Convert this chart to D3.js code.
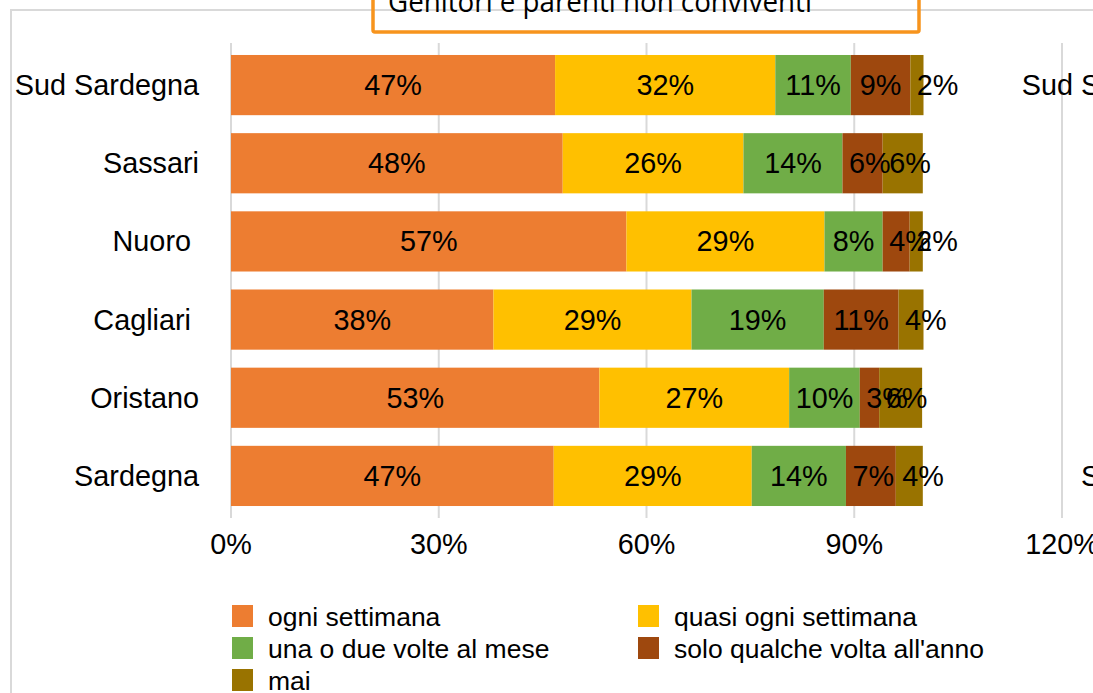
<!DOCTYPE html>
<html>
<head>
<meta charset="utf-8">
<script src="https://cdn.jsdelivr.net/npm/d3@7"></script>
<style>
  body { margin: 0; background: #fff; }
  svg { display: block; font-family: "Liberation Sans", Arial, Helvetica, sans-serif; }
  text { white-space: pre; }
</style>
</head>
<body>
<svg id="chart" width="1093" height="693"></svg>
<script>
// categories top to bottom (labels keep trailing spaces as in original)
var categories = ["Sud Sardegna", "Sassari", "Nuoro ", "Cagliari ", "Oristano", "Sardegna"];
var seriesNames = ["ogni settimana", "quasi ogni settimana", "una o due volte al mese", "solo qualche volta all'anno", "mai"];
var seriesColors = ["#ED7D31", "#FFC000", "#70AD47", "#9E480E", "#997300"];

// shares, one array per series, same order as categories
var ogniSettimana      = [0.468, 0.479, 0.571, 0.379, 0.532, 0.466];
var quasiOgni          = [0.318, 0.261, 0.286, 0.286, 0.274, 0.286];
var unaODue            = [0.109, 0.143, 0.084, 0.191, 0.102, 0.136];
var qualcheVoltaAnno   = [0.086, 0.058, 0.039, 0.108, 0.028, 0.072];
var mai                = [0.019, 0.058, 0.019, 0.036, 0.062, 0.039];

var xTicks = [0, 0.3, 0.6, 0.9, 1.2];
var title = "Genitori e parenti non conviventi";

var series = [ogniSettimana, quasiOgni, unaODue, qualcheVoltaAnno, mai];
var rows = categories.map(function (c, i) {
  var r = { cat: c };
  seriesNames.forEach(function (s, j) { r[s] = series[j][i]; });
  return r;
});

var svg = d3.select("#chart");

var x = d3.scaleLinear().domain([0, 1.2]).range([231, 1062]);
var y = d3.scaleBand().domain(categories).range([46, 515])
  .paddingInner(0.23).paddingOuter(0.115);
var color = d3.scaleOrdinal().domain(seriesNames).range(seriesColors);
var fmt = d3.format(".0%");

// outer chart border (extends past the right edge)
svg.append("rect")
  .attr("x", 11).attr("y", 10)
  .attr("width", 1200).attr("height", 720)
  .attr("fill", "none")
  .attr("stroke", "#d9d9d9")
  .attr("stroke-width", 2);

// title box, cut at top
svg.append("rect")
  .attr("x", 373).attr("y", -30)
  .attr("width", 546).attr("height", 62)
  .attr("rx", 2)
  .attr("fill", "none")
  .attr("stroke", "#F7941D")
  .attr("stroke-width", 3.5);

svg.append("text")
  .attr("x", 388).attr("y", 12)
  .attr("font-family", "'Liberation Sans Narrow', 'Open Sans', sans-serif")
  .attr("font-size", 30)
  .attr("textLength", 424)
  .attr("lengthAdjust", "spacingAndGlyphs")
  .attr("fill", "#000")
  .text(title);

// gridlines
svg.append("g")
  .selectAll("line")
  .data(xTicks)
  .enter().append("line")
  .attr("x1", function (d) { return x(d); })
  .attr("x2", function (d) { return x(d); })
  .attr("y1", 43).attr("y2", 518)
  .attr("stroke", "#d9d9d9")
  .attr("stroke-width", 2);

// x axis labels
svg.append("g")
  .selectAll("text")
  .data(xTicks)
  .enter().append("text")
  .attr("x", function (d) { return x(d); })
  .attr("y", 554)
  .attr("text-anchor", "middle")
  .attr("font-size", 28.8)
  .attr("fill", "#000")
  .text(function (d) { return fmt(d); });

// stacked bars
var stack = d3.stack().keys(seriesNames);
var layers = stack(rows);

var layer = svg.append("g")
  .selectAll("g")
  .data(layers)
  .enter().append("g")
  .attr("fill", function (d) { return color(d.key); });

layer.selectAll("rect")
  .data(function (d) { return d; })
  .enter().append("rect")
  .attr("x", function (d) { return x(d[0]); })
  .attr("width", function (d) { return x(d[1]) - x(d[0]); })
  .attr("y", function (d) { return y(d.data.cat); })
  .attr("height", y.bandwidth());

// data labels: centered, but never closer than 6.5px to the segment start
var labels = svg.append("g");
layers.forEach(function (l) {
  l.forEach(function (d) {
    var t = labels.append("text")
      .attr("y", y(d.data.cat) + y.bandwidth() / 2)
      .attr("dy", "0.35em")
      .attr("font-size", 28.8)
      .attr("fill", "#000")
      .text(fmt(d[1] - d[0]));
    var w = t.node().getComputedTextLength();
    var left = Math.max((x(d[0]) + x(d[1])) / 2 - w / 2, x(d[0]) + 6.5);
    t.attr("x", left);
  });
});

// category labels
svg.append("g")
  .selectAll("text")
  .data(categories)
  .enter().append("text")
  .attr("x", 199)
  .attr("y", function (d) { return y(d) + y.bandwidth() / 2; })
  .attr("dy", "0.35em")
  .attr("text-anchor", "end")
  .attr("font-size", 28.8)
  .attr("fill", "#000")
  .text(function (d) { return d; });

// neighbouring chart's category labels, mostly off-screen
svg.append("g")
  .selectAll("text")
  .data(categories)
  .enter().append("text")
  .attr("x", 1206)
  .attr("y", function (d) { return y(d) + y.bandwidth() / 2; })
  .attr("dy", "0.35em")
  .attr("text-anchor", "end")
  .attr("font-size", 28.8)
  .attr("fill", "#000")
  .text(function (d) { return d; });

// legend
var legend = svg.append("g")
  .selectAll("g")
  .data(seriesNames)
  .enter().append("g")
  .attr("transform", function (d, i) {
    return "translate(" + (i % 2 ? 638 : 232) + "," + (605 + Math.floor(i / 2) * 32) + ")";
  });

legend.append("rect")
  .attr("width", 21).attr("height", 22)
  .attr("fill", function (d) { return color(d); });

legend.append("text")
  .attr("x", 36).attr("y", 21)
  .attr("font-size", 26.5)
  .attr("fill", "#000")
  .text(function (d) { return d; });
</script>
</body>
</html>
